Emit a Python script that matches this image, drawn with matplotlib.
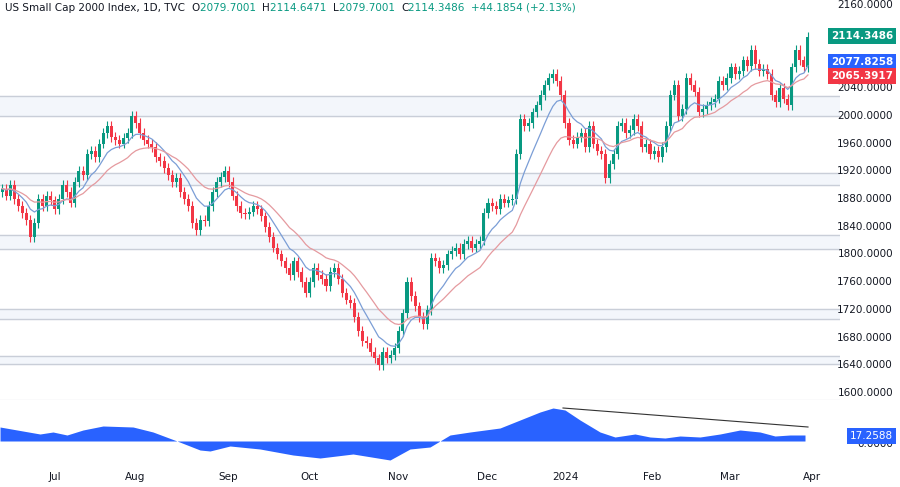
import numpy as np
import matplotlib
matplotlib.use("Agg")
import matplotlib.pyplot as plt

closes = [1895,1885,1900,1880,1870,1860,1850,1825,1845,1880,
          1870,1885,1878,1865,1880,1900,1890,1875,1905,1920,
          1915,1945,1950,1940,1960,1975,1985,1970,1965,1960,
          1968,1975,2000,1990,1975,1965,1960,1955,1940,1935,
          1925,1915,1905,1910,1890,1880,1870,1845,1835,1850,
          1848,1870,1890,1905,1912,1920,1905,1885,1870,1860,
          1858,1862,1870,1865,1855,1840,1825,1810,1800,1790,
          1780,1770,1790,1775,1760,1745,1760,1780,1770,1765,
          1755,1775,1780,1765,1745,1735,1730,1710,1690,1675,
          1672,1660,1650,1640,1660,1650,1655,1665,1690,1715,
          1760,1740,1725,1710,1700,1720,1795,1790,1780,1785,
          1800,1805,1810,1800,1815,1820,1810,1815,1820,1860,
          1875,1870,1865,1880,1875,1878,1880,1945,1995,1985,
          1990,2005,2015,2030,2045,2055,2060,2050,2030,1990,
          1965,1960,1970,1975,1955,1985,1960,1950,1945,1910,
          1930,1945,1985,1990,1975,1980,1995,1985,1955,1960,
          1945,1950,1940,1955,1985,2030,2045,2000,2010,2055,
          2045,2035,2005,2010,2015,2020,2025,2050,2045,2055,
          2070,2060,2065,2080,2072,2095,2075,2065,2068,2060,
          2030,2020,2040,2025,2015,2070,2095,2080,2070,2114.35]
first_open = 1890
month_labels = ["Jul", "Aug", "Sep", "Oct", "Nov", "Dec", "2024", "Feb", "Mar", "Apr"]
month_pos = [13.1, 32.8, 55.8, 76.0, 97.8, 119.8, 139.0, 160.5, 179.8, 200.0]
zones = [(2000, 2028), (1900, 1918), (1808, 1828), (1707, 1721), (1642, 1654)]
osc_x = [0,40,53,67,83,103,133,153,177,200,210,230,260,293,320,353,390,410,430,450,
         470,500,520,540,553,565,580,600,615,635,650,665,680,700,720,740,760,775,790,805]
osc_y = [427,434,432,435,430,426,427,432,441,450,451,446,449,455,458,454,460,449,447,435,
         432,428,420,412,408,410,420,432,437,434,437,438,436,437,434,430,432,436,435,435]
price_ticks = [1600, 1640, 1680, 1720, 1760, 1800, 1840, 1880, 1920, 1960, 2000, 2040, 2080, 2120, 2160]
header = [("US Small Cap 2000 Index, 1D, TVC  ", "dark"), ("O", "dark"), ("2079.7001  ", "g"),
          ("H", "dark"), ("2114.6471  ", "g"), ("L", "dark"), ("2079.7001  ", "g"),
          ("C", "dark"), ("2114.3486  ", "g"), ("+44.1854 (+2.13%)", "g")]

GREEN, RED = "#089981", "#F23645"
W, H = 900, 487
fig = plt.figure(figsize=(9, 4.87), dpi=100)
ax = fig.add_axes([0, 1 - 400 / H, 840 / W, 400 / H])
ax2 = fig.add_axes([0, 1 - 465 / H, 840 / W, 62 / H])

c = np.array(closes, float)
o = np.concatenate([[first_open], c[:-1]])
n = len(c)
idx = np.arange(n)
hi = np.maximum(o, c) + 7
lo = np.minimum(o, c) - 7

def ema(x, p):
    a = 2 / (p + 1); out = [x[0]]
    for v in x[1:]:
        out.append(out[-1] + a * (v - out[-1]))
    return np.array(out)

for z0, z1 in zones:
    ax.axhspan(z0, z1, color="#f3f6fb", zorder=0)
    ax.axhline(z0, color="#c9ced8", lw=1, zorder=1)
    ax.axhline(z1, color="#c9ced8", lw=1, zorder=1)

for i in idx:
    col = GREEN if c[i] >= o[i] else RED
    ax.vlines(i, lo[i], hi[i], color=col, lw=0.8, zorder=3)
    b0, b1 = min(o[i], c[i]), max(o[i], c[i])
    ax.bar(i, max(b1 - b0, 0.8), bottom=b0, width=0.75, color=col, zorder=4)
ax.plot(idx, ema(c, 9), color="#7b9ed6", lw=0.9, zorder=5)
ax.plot(idx, ema(c, 20), color="#e59a9f", lw=0.9, zorder=5)

x0 = -0.5; x1 = (840 - 2) / 4.05
ax.set_xlim(x0, x1); ax2.set_xlim(x0, x1)
ax.set_ylim(2160 - 395 / 0.693, 2160 + 5 / 0.693)
for a in (ax, ax2):
    a.set_xticks([]); a.set_yticks([])
    for s in a.spines.values():
        s.set_visible(False)
ax.axhline(ax.get_ylim()[0], color="#e6e8ee", lw=1)

ox = (np.array(osc_x) - 2) / 4.05
ov = (441 - np.array(osc_y)) * 3.4
ax2.fill_between(ox, 0, ov, color="#2962FF", lw=0)
ax2.set_ylim((441 - 465) * 3.4, (441 - 403) * 3.4)
ax2.plot([(563 - 2) / 4.05, (808 - 2) / 4.05], [(441 - 408) * 3.4, (441 - 427) * 3.4], color="#333333", lw=0.8)

def py(p):
    return 1 - (5 + (2160 - p) * 0.693) / H
for p in price_ticks:
    fig.text(893 / W, py(p), f"{p:.4f}", ha="right", va="center", fontsize=7.5, color="#131722")
fig.text(893 / W, 1 - 444 / H, "0.0000", ha="right", va="center", fontsize=7.5, color="#131722")
for txt, yp, col in [("2114.3486", 36, GREEN), ("2077.8258", 62, "#2962FF"), ("2065.3917", 76, RED)]:
    fig.text(893 / W, 1 - yp / H, txt, ha="right", va="center", fontsize=7.5, color="white", fontweight="bold",
             bbox=dict(boxstyle="square,pad=0.25", fc=col, ec="none"))
fig.text(893 / W, 1 - 436 / H, "17.2588", ha="right", va="center", fontsize=7.5, color="white",
         bbox=dict(boxstyle="square,pad=0.25", fc="#2962FF", ec="none"))
for lab, pos in zip(month_labels, month_pos):
    fig.text((pos * 4.05 + 2) / W, 1 - 477 / H, lab, ha="center", va="center", fontsize=7.5, color="#131722")

renderer = fig.canvas.get_renderer()
xpos = 5
for txt, kind in header:
    t = fig.text(xpos / W, 1 - 8 / H, txt, ha="left", va="center", fontsize=7.5,
                 color="#131722" if kind == "dark" else GREEN)
    bb = t.get_window_extent(renderer)
    xpos += bb.width

fig.savefig("out.png", dpi=100, facecolor="white")
